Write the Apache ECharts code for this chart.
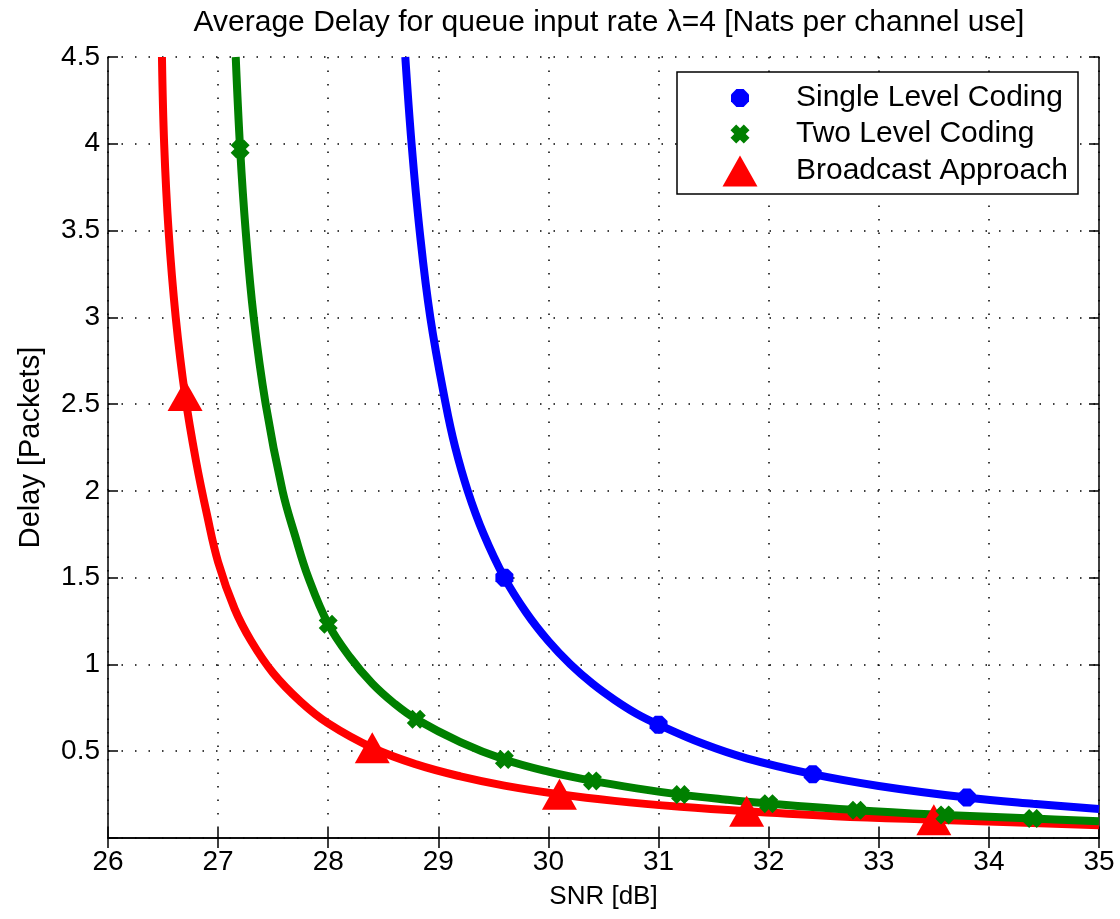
<!DOCTYPE html>
<html>
<head>
<meta charset="utf-8">
<script src="https://cdn.jsdelivr.net/npm/echarts@6/dist/echarts.min.js"></script>
<style>
html,body{margin:0;padding:0;background:#fff;}
#chart{width:1120px;height:919px;}
</style>
</head>
<body>
<div id="chart"></div>
<script>
// ---- data ----
const titleText = 'Average Delay for queue input rate \u03bb=4 [Nats per channel use]';
const xTicks = [26, 27, 28, 29, 30, 31, 32, 33, 34, 35];
const yTicks = [0.5, 1, 1.5, 2, 2.5, 3, 3.5, 4, 4.5];
const seriesNames = ['Single Level Coding', 'Two Level Coding', 'Broadcast Approach'];

// Single Level Coding (blue) curve
const snrSingle   = [28.70, 28.757, 28.83, 28.927, 29.067, 29.152, 29.267, 29.41, 29.60, 29.80, 30.00, 30.20, 30.40, 30.60, 30.80, 31.00, 31.40, 31.80, 32.40, 33.00, 33.80, 34.40, 35.00];
const delaySingle = [4.50, 4.00, 3.50, 3.00, 2.50, 2.254, 2.00, 1.754, 1.50, 1.297, 1.134, 1.00, 0.889, 0.796, 0.716, 0.653, 0.544, 0.459, 0.368, 0.30, 0.233, 0.197, 0.167];
const snrSingleMk   = [29.6, 31.0, 32.4, 33.8];
const delaySingleMk = [1.50, 0.653, 0.368, 0.233];

// Two Level Coding (green) curve
const snrTwo   = [27.16, 27.20, 27.25, 27.323, 27.432, 27.585, 27.70, 27.82, 28.00, 28.20, 28.40, 28.60, 28.80, 29.20, 29.60, 30.00, 30.40, 30.80, 31.20, 31.60, 32.00, 32.80, 33.60, 34.40, 35.00];
const delayTwo = [4.50, 3.97, 3.50, 3.00, 2.50, 2.00, 1.74, 1.50, 1.232, 1.04, 0.89, 0.775, 0.684, 0.553, 0.452, 0.382, 0.329, 0.286, 0.25, 0.222, 0.198, 0.16, 0.133, 0.112, 0.097];
const snrTwoMk   = [27.2, 28.0, 28.8, 29.6, 30.4, 31.2, 32.0, 32.8, 33.6, 34.4];
const delayTwoMk = [3.97, 1.232, 0.684, 0.452, 0.329, 0.25, 0.198, 0.16, 0.133, 0.112];

// Broadcast Approach (red) curve
const snrBroad   = [26.49, 26.51, 26.55, 26.615, 26.70, 26.80, 26.90, 27.00, 27.15, 27.30, 27.50, 27.75, 28.00, 28.40, 28.80, 29.20, 29.60, 30.10, 30.60, 31.20, 31.80, 32.60, 33.50, 34.20, 35.00];
const delayBroad = [4.50, 4.00, 3.50, 3.00, 2.55, 2.17, 1.86, 1.59, 1.32, 1.135, 0.95, 0.785, 0.66, 0.52, 0.424, 0.355, 0.302, 0.252, 0.214, 0.18, 0.154, 0.126, 0.105, 0.091, 0.074];
const snrBroadMk   = [26.7, 28.4, 30.1, 31.8, 33.5];
const delayBroadMk = [2.55, 0.52, 0.252, 0.154, 0.105];

// ---- build chart ----
const zip = (xs, ys) => xs.map((x, i) => [x, ys[i]]);
const FONT = '"Liberation Sans", Arial, Helvetica, sans-serif';
const octagon = 'path://M3,0 L7,0 L10,3 L10,7 L7,10 L3,10 L0,7 L0,3 Z';
const xMark = 'path://M0,3 L3,0 L5,2 L7,0 L10,3 L8,5 L10,7 L7,10 L5,8 L3,10 L0,7 L2,5 Z';
const tri = 'path://M0,31 L17.5,0 L35,31 Z';
const BLUE = '#0000ff', GREEN = '#008000', RED = '#ff0000';

const chart = echarts.init(document.getElementById('chart'), null, {renderer: 'canvas'});

const axisCommon = {
  axisLine: {show: true, lineStyle: {color: '#000', width: 1.5}},
  axisTick: {show: true, inside: true, length: 10, lineStyle: {color: '#000', width: 1.5}},
};

function legendFor(i, icon, w, h, top) {
  return {
    show: true,
    data: [{name: seriesNames[i], icon: icon}],
    left: 740 - w / 2, top: top,
    padding: 0,
    itemWidth: 102, itemHeight: h,
    selectedMode: false,
    textStyle: {fontFamily: FONT, fontSize: 30, color: '#000', lineHeight: 36},
    z: 10
  };
}

const lineCommon = {type: 'line', showSymbol: false, smooth: 0.4, z: 2, clip: true};

const option = {
  animation: false,
  backgroundColor: '#fff',
  title: {
    text: titleText,
    left: 604, top: 3, textAlign: 'center',
    textStyle: {fontFamily: FONT, fontSize: 30, fontWeight: 'normal', color: '#000'}
  },
  grid: {left: 108, right: 21, top: 57, bottom: 81, containLabel: false},
  legend: [
    legendFor(0, octagon, 18, 18, 80),
    legendFor(1, xMark, 19, 19, 116),
    legendFor(2, tri, 35, 31, 153)
  ],
  graphic: [{
    type: 'rect', z: 5,
    shape: {x: 677, y: 72, width: 401, height: 122},
    style: {fill: '#fff', stroke: '#000', lineWidth: 1.5}
  }],
  xAxis: [
    Object.assign({
      type: 'value', min: xTicks[0], max: xTicks[xTicks.length - 1], interval: 1,
      position: 'bottom',
      name: 'SNR [dB]', nameLocation: 'middle', nameGap: 46,
      nameTextStyle: {fontFamily: FONT, fontSize: 26, color: '#000'},
      axisLabel: {fontFamily: FONT, fontSize: 28, color: '#000', margin: 10},
      splitLine: {show: true, lineStyle: {color: '#000', width: 1.5, type: [1.5, 12]}}
    }, axisCommon),
    Object.assign({
      type: 'value', min: xTicks[0], max: xTicks[xTicks.length - 1], interval: 1,
      position: 'top', axisLabel: {show: false}, splitLine: {show: false}
    }, axisCommon)
  ],
  yAxis: [
    Object.assign({
      type: 'value', min: 0, max: yTicks[yTicks.length - 1], interval: 0.5,
      position: 'left',
      name: 'Delay [Packets]', nameLocation: 'middle', nameGap: 63,
      nameTextStyle: {fontFamily: FONT, fontSize: 29, color: '#000'},
      axisLabel: {fontFamily: FONT, fontSize: 28, color: '#000', margin: 8,
        formatter: v => (yTicks.indexOf(v) >= 0 ? String(v) : '')},
      splitLine: {show: true, lineStyle: {color: '#000', width: 1.5, type: [1.5, 12]}}
    }, axisCommon),
    Object.assign({
      type: 'value', min: 0, max: yTicks[yTicks.length - 1], interval: 0.5,
      position: 'right', axisLabel: {show: false}, splitLine: {show: false}
    }, axisCommon)
  ],
  series: [
    Object.assign({name: 'broadLine', data: zip(snrBroad, delayBroad),
      lineStyle: {color: RED, width: 8}, itemStyle: {color: RED}}, lineCommon),
    {name: seriesNames[2], type: 'scatter', data: zip(snrBroadMk, delayBroadMk), symbol: tri, symbolSize: [35, 31],
      itemStyle: {color: RED, opacity: 1}, z: 2, clip: true},
    Object.assign({name: 'twoLine', data: zip(snrTwo, delayTwo),
      lineStyle: {color: GREEN, width: 8}, itemStyle: {color: GREEN}}, lineCommon),
    {name: seriesNames[1], type: 'scatter', data: zip(snrTwoMk, delayTwoMk), symbol: xMark, symbolSize: 19,
      itemStyle: {color: GREEN, opacity: 1}, z: 2, clip: true},
    Object.assign({name: 'singleLine', data: zip(snrSingle, delaySingle),
      lineStyle: {color: BLUE, width: 8}, itemStyle: {color: BLUE}}, lineCommon),
    {name: seriesNames[0], type: 'scatter', data: zip(snrSingleMk, delaySingleMk), symbol: octagon, symbolSize: 18,
      itemStyle: {color: BLUE, opacity: 1}, z: 2, clip: true}
  ]
};
chart.setOption(option);
</script>
</body>
</html>
